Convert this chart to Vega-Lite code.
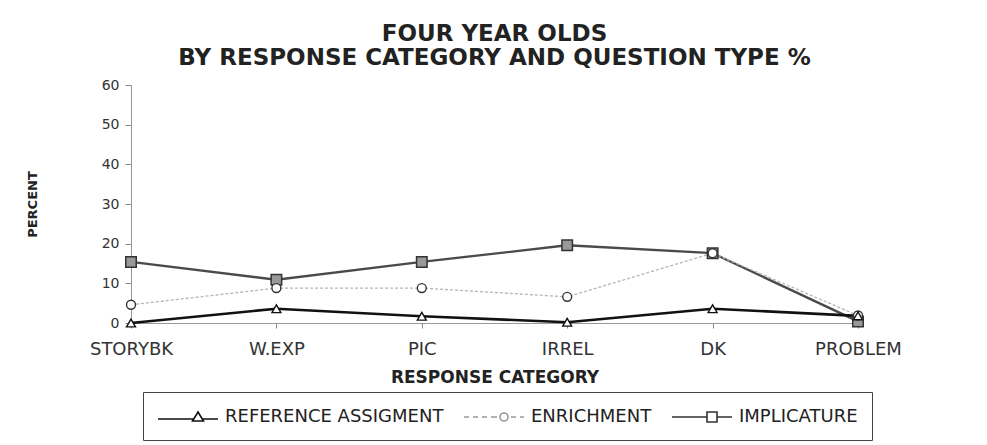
{
  "$schema": "https://vega.github.io/schema/vega-lite/v6.json",
  "width": 727,
  "height": 238,
  "autosize": {"type": "none"},
  "padding": {"left": 131, "top": 85, "right": 129, "bottom": 122},
  "background": "white",
  "title": {
    "text": ["FOUR YEAR OLDS", "BY RESPONSE CATEGORY AND QUESTION TYPE %"],
    "font": "DejaVu Sans",
    "fontSize": 23,
    "fontWeight": "bold",
    "color": "#222",
    "lineHeight": 24,
    "offset": 8,
    "anchor": "middle"
  },
  "data": {
    "values": [
      {"category": "STORYBK", "series": "REFERENCE ASSIGMENT", "value": 0},
      {"category": "W.EXP", "series": "REFERENCE ASSIGMENT", "value": 3.6},
      {"category": "PIC", "series": "REFERENCE ASSIGMENT", "value": 1.7},
      {"category": "IRREL", "series": "REFERENCE ASSIGMENT", "value": 0.2},
      {"category": "DK", "series": "REFERENCE ASSIGMENT", "value": 3.6},
      {"category": "PROBLEM", "series": "REFERENCE ASSIGMENT", "value": 1.8},
      {"category": "STORYBK", "series": "ENRICHMENT", "value": 4.6},
      {"category": "W.EXP", "series": "ENRICHMENT", "value": 8.8},
      {"category": "PIC", "series": "ENRICHMENT", "value": 8.8},
      {"category": "IRREL", "series": "ENRICHMENT", "value": 6.6},
      {"category": "DK", "series": "ENRICHMENT", "value": 17.6},
      {"category": "PROBLEM", "series": "ENRICHMENT", "value": 1.9},
      {"category": "STORYBK", "series": "IMPLICATURE", "value": 15.4},
      {"category": "W.EXP", "series": "IMPLICATURE", "value": 10.9},
      {"category": "PIC", "series": "IMPLICATURE", "value": 15.4},
      {"category": "IRREL", "series": "IMPLICATURE", "value": 19.6},
      {"category": "DK", "series": "IMPLICATURE", "value": 17.6},
      {"category": "PROBLEM", "series": "IMPLICATURE", "value": 0.4}
    ]
  },
  "encoding": {
    "x": {
      "field": "category",
      "type": "nominal",
      "sort": ["STORYBK", "W.EXP", "PIC", "IRREL", "DK", "PROBLEM"],
      "scale": {"type": "point", "padding": 0},
      "axis": {
        "title": "RESPONSE CATEGORY",
        "labelAngle": 0,
        "labelFont": "DejaVu Sans",
        "labelFontSize": 18,
        "labelColor": "#333",
        "labelPadding": 12,
        "tickSize": 5,
        "tickColor": "#888",
        "domainColor": "#999",
        "titleFont": "DejaVu Sans",
        "titleFontSize": 17,
        "titleFontWeight": "bold",
        "titleColor": "#222",
        "titlePadding": 11,
        "grid": false
      }
    },
    "y": {
      "field": "value",
      "type": "quantitative",
      "scale": {"domain": [0, 60]},
      "axis": {
        "title": "PERCENT",
        "values": [0, 10, 20, 30, 40, 50, 60],
        "labelFont": "DejaVu Sans",
        "labelFontSize": 14,
        "labelColor": "#333",
        "labelPadding": 6,
        "tickSize": 6,
        "tickColor": "#888",
        "domainColor": "#999",
        "titleFont": "DejaVu Sans",
        "titleFontSize": 13,
        "titleFontWeight": "bold",
        "titleColor": "#222",
        "titlePadding": 62,
        "grid": false
      }
    }
  },
  "layer": [
    {
      "transform": [{"filter": "datum.series === 'IMPLICATURE'"}],
      "mark": {"type": "line", "color": "#4a4a4a", "strokeWidth": 2.3}
    },
    {
      "transform": [{"filter": "datum.series === 'ENRICHMENT'"}],
      "mark": {"type": "line", "color": "#b5b5b5", "strokeWidth": 1.3, "strokeDash": [3, 2]}
    },
    {
      "transform": [{"filter": "datum.series === 'REFERENCE ASSIGMENT'"}],
      "mark": {"type": "line", "color": "#111", "strokeWidth": 2.6}
    },
    {
      "transform": [{"filter": "datum.series === 'IMPLICATURE'"}],
      "mark": {"type": "point", "shape": "square", "filled": true, "fill": "#999", "stroke": "#333", "strokeWidth": 1.5, "size": 110, "opacity": 1}
    },
    {
      "transform": [{"filter": "datum.series === 'ENRICHMENT'"}],
      "mark": {"type": "point", "shape": "circle", "filled": true, "fill": "white", "stroke": "#333", "strokeWidth": 1.4, "size": 80, "opacity": 1}
    },
    {
      "transform": [{"filter": "datum.series === 'REFERENCE ASSIGMENT'"}],
      "mark": {"type": "point", "shape": "triangle-up", "filled": true, "fill": "white", "stroke": "#111", "strokeWidth": 1.4, "size": 80, "opacity": 1}
    },
    {
      "transform": [{"filter": "false"}],
      "mark": {"type": "point", "filled": false, "opacity": 1},
      "encoding": {
        "x": null,
        "y": null,
        "shape": {
          "field": "series",
          "type": "nominal",
          "scale": {
            "domain": ["REFERENCE ASSIGMENT", "ENRICHMENT", "IMPLICATURE"],
            "range": [
              "M-1,0.2L2.5,0.2M3.5,0.2L5,0.2M3,-0.5L3.55,0.4L2.45,0.4Z",
              "M-1,0L-0.5,0M-0.1,0L0.4,0M0.8,0L1.3,0M1.7,0L2.3,0M3.7,0L4.2,0M4.6,0L5,0M3.4,0A0.4,0.4,0,1,1,2.6,0A0.4,0.4,0,1,1,3.4,0Z",
              "M-1,0L2.5,0M3.5,0L5,0M2.5,-0.5L3.5,-0.5L3.5,0.5L2.5,0.5Z"
            ]
          },
          "legend": {
            "title": null,
            "orient": "none",
            "legendX": 12,
            "legendY": 307,
            "direction": "horizontal",
            "columns": 3,
            "symbolSize": 400,
            "symbolStrokeWidth": 1.6,
            "labelFont": "DejaVu Sans",
            "labelFontSize": 18,
            "labelColor": "#222",
            "labelOffset": 46,
            "labelLimit": 0,
            "columnPadding": 16,
            "padding": 14,
            "strokeColor": "#444",
            "fillColor": "white",
            "encode": {
              "symbols": {
                "update": {
                  "fill": {"signal": "datum.value === 'IMPLICATURE' ? '#999' : 'white'"},
                  "strokeWidth": {"signal": "datum.value === 'ENRICHMENT' ? 1.2 : 2"}
                }
              }
            }
          }
        },
        "color": {
          "field": "series",
          "type": "nominal",
          "scale": {
            "domain": ["REFERENCE ASSIGMENT", "ENRICHMENT", "IMPLICATURE"],
            "range": ["#111", "#999", "#333"]
          },
          "legend": {
            "title": null,
            "orient": "none",
            "legendX": 12,
            "legendY": 307,
            "direction": "horizontal",
            "columns": 3
          }
        }
      }
    }
  ],
  "config": {
    "view": {"stroke": null}
  }
}
